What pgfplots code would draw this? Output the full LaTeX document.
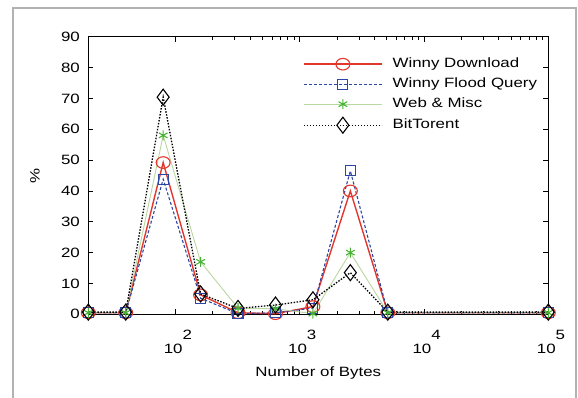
\documentclass[border=0pt]{standalone}
\usepackage{fontspec}
\setmainfont{Liberation Sans}[FakeStretch=1.25]
\usepackage{pgfplots}
\pgfplotsset{compat=1.18}
\definecolor{wred}{RGB}{225,55,45}
\definecolor{wblue}{RGB}{45,70,165}
\definecolor{wgreenl}{RGB}{185,215,160}
\definecolor{wgreen}{RGB}{70,180,50}
\begin{document}
\begin{tikzpicture}
\path[use as bounding box] (-88.3bp,-83.7bp) rectangle (489.7bp,314.3bp);
\draw[color=black!30, line width=1.3bp] (-75.3bp,-90bp) -- (-75.3bp,306.3bp) -- (487.7bp,306.3bp) -- (487.7bp,-90bp);
\begin{axis}[
  scale only axis, width=460bp, height=277.6bp,
  xmode=log, xmin=20, xmax=100000, ymin=0, ymax=90,
  ytick={0,10,20,30,40,50,60,70,80,90},
  xtick={100,1000,10000,100000},
  xticklabels={10\rlap{\smash{\raisebox{13.6bp}{2}}},10\rlap{\smash{\raisebox{13.6bp}{3}}},10\rlap{\smash{\raisebox{13.6bp}{4}}},10\rlap{\smash{\raisebox{13.6bp}{5}}}},
  font=\fontsize{13.5bp}{16bp}\selectfont,
  /pgf/number format/assume math mode=true,
  tick align=inside,
  major tick length=5bp, minor tick length=3bp,
  tick style={black, line width=0.7bp},
  axis line style={black, line width=1bp},
  xticklabel style={anchor=base, yshift=-38.7bp, xshift=-2bp},
  yticklabel style={anchor=east, inner sep=0pt, xshift=-8.3bp},
  xlabel={Number of Bytes}, ylabel={\%},
  every axis x label/.style={at={(axis description cs:0.5,-0.2248)}, anchor=base},
  every axis y label/.style={at={(axis description cs:-0.1159,0.5)}, rotate=90, anchor=center},
  legend style={draw=none, fill=none, inner sep=0pt, at={(0.4667,0.9269)}, anchor=north west,
    row sep=6bp, column sep=9bp,
    nodes={inner sep=1bp, text height=9.5bp, text depth=2.5bp, anchor=west}},
  legend cell align=left,
  legend image code/.code={\draw[mark repeat=2,mark phase=2,#1] plot coordinates {(0bp,0bp) (39bp,0bp) (78bp,0bp)};},
]
\addplot[color=wred, line width=1.4bp, mark=o, mark size=5.8bp, mark options={solid, xscale=1.2, line width=1.1bp}]
  coordinates {(20,0.5) (40,0.5) (80,49.2) (160,6.3) (320,0.5) (640,0.2) (1280,2.5) (2560,40.0) (5120,0.5) (100000,0.5)};
\addlegendentry{Winny Download}
\addplot[color=wblue, line width=1.1bp, dash pattern=on 3bp off 2bp, mark=square, mark size=5bp, mark options={solid, line width=1.1bp}]
  coordinates {(20,0.5) (40,0.5) (80,43.8) (160,5.2) (320,0.2) (640,0.5) (1280,2.0) (2560,46.5) (5120,0.5) (100000,0.5)};
\addlegendentry{Winny Flood Query}
\addplot[color=wgreenl, line width=0.9bp, mark=asterisk, mark size=5bp, mark options={solid, color=wgreen, line width=1.1bp}]
  coordinates {(20,0.5) (40,0.5) (80,58.0) (160,17.0) (320,2.0) (640,1.8) (1280,0.2) (2560,20.0) (5120,0.5) (100000,0.5)};
\addlegendentry{Web \& Misc}
\addplot[color=black, line width=1.3bp, dash pattern=on 1.5bp off 1.5bp, mark=diamond, mark size=8bp, mark options={solid, line width=1.1bp}]
  coordinates {(20,0.7) (40,0.7) (80,70.4) (160,6.6) (320,1.9) (640,3.0) (1280,4.7) (2560,13.5) (5120,0.7) (100000,0.7)};
\addlegendentry{BitTorent}
\end{axis}
\end{tikzpicture}
\end{document}
